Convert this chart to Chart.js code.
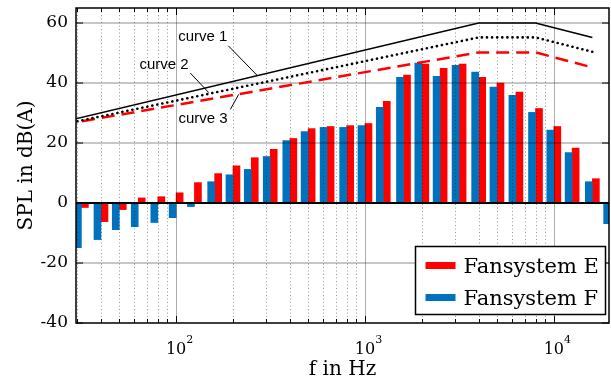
<!DOCTYPE html>
<html>
<head>
<meta charset="utf-8">
<title>SPL per third-octave band</title>
<script src="https://cdn.jsdelivr.net/npm/chart.js@4.4.0/dist/chart.umd.min.js"></script>
<style>
  body { margin: 0; background: #fff; }
</style>
</head>
<body>
<canvas id="splChart" width="611" height="385"></canvas>
<script>
// Third-octave band centre frequencies (Hz)
const bands = [31.5, 40, 50, 63, 80, 100, 125, 160, 200, 250, 315, 400, 500, 630, 800,
  1000, 1250, 1600, 2000, 2500, 3150, 4000, 5000, 6300, 8000, 10000, 12500, 16000, 20000];

// Band levels in dB(A)
const splE = [-1.5, -6.2, -2.2, 1.7, 2.1, 3.4, 6.8, 9.8, 12.4, 15.1, 17.9, 21.5, 24.8, 25.5, 25.8,
  26.5, 33.9, 42.6, 46.3, 44.9, 46.3, 41.9, 40.0, 37.0, 31.5, 25.5, 18.3, 8.1, -5.3];
const splF = [-14.9, -12.2, -8.9, -7.9, -6.5, -4.9, -1.2, 7.1, 9.4, 11.2, 15.5, 20.8, 23.8, 25.2, 25.2,
  25.8, 31.9, 41.9, 46.6, 42.2, 45.9, 43.6, 38.6, 35.9, 30.2, 24.3, 16.8, 7.1, -6.9];

// Limit curves
const curveFreq = [25, 4000, 8000, 16000];
const curve1 = [27.0, 60, 60, 55.2];
const curve2 = [26.2, 55.2, 55.2, 50.4];
const curve3 = [26.1, 50.2, 50.2, 45.2];

// Curve annotations: text anchor, leader start, leader tip (Hz / dB)
const curveNames = ['curve 1', 'curve 2', 'curve 3'];
const labelFreq = [102.5, 64, 102.8];
const labelDb = [54.1, 44.8, 26.7];
const leaderFreq = [189, 119, 193.8];
const leaderDb = [52.4, 43.3, 31.2];
const tipFreq = [268, 148.8, 214.4];
const tipDb = [42.6, 36.8, 36.2];

// x tick labels
const xTickValues = [100, 1000, 10000];
const xTickExp = ['2', '3', '4'];

const serif = "'DejaVu Serif', serif";
const red = '#FF0000';
const blue = '#0072BD';

function points(xs, ys) {
    return xs.map((f, i) => ({ x: f, y: ys[i] }));
}

// grid on top of the bars, below the curves
const gridPlugin = {
    id: 'gridPlugin',
    afterDatasetDraw(chart, args) {
        if (args.index !== 0) return;
        const { ctx, chartArea: a, scales: { x, y } } = chart;
        ctx.save();

        // minor decades, dotted
        ctx.strokeStyle = 'rgba(0,0,0,0.4)';
        ctx.lineWidth = 1;
        ctx.setLineDash([1, 2.5]);
        for (let d = 1; d <= 4; d++) {
            for (let m = 2; m <= 9; m++) {
                const f = m * Math.pow(10, d);
                if (f <= x.min || f >= x.max) continue;
                const px = Math.round(x.getPixelForValue(f)) + 0.5;
                ctx.beginPath();
                ctx.moveTo(px, a.top);
                ctx.lineTo(px, a.bottom);
                ctx.stroke();
            }
        }
        ctx.setLineDash([]);

        // decades
        ctx.strokeStyle = 'rgba(0,0,0,0.32)';
        xTickValues.forEach(f => {
            const px = Math.round(x.getPixelForValue(f)) + 0.5;
            ctx.beginPath();
            ctx.moveTo(px, a.top);
            ctx.lineTo(px, a.bottom);
            ctx.stroke();
        });

        // horizontal lines
        ctx.strokeStyle = 'rgba(0,0,0,0.45)';
        ctx.lineWidth = 1.2;
        y.ticks.forEach(t => {
            if (t.value === 0 || t.value === y.min) return;
            const py = y.getPixelForValue(t.value);
            ctx.beginPath();
            ctx.moveTo(a.left, py);
            ctx.lineTo(a.right, py);
            ctx.stroke();
        });

        // zero line
        ctx.strokeStyle = '#000';
        ctx.lineWidth = 2;
        const y0 = y.getPixelForValue(0);
        ctx.beginPath();
        ctx.moveTo(a.left, y0);
        ctx.lineTo(a.right, y0);
        ctx.stroke();
        ctx.restore();
    },

    afterDraw(chart) {
        const { ctx, chartArea: a, scales: { x, y } } = chart;
        ctx.save();

        // frame with inward ticks
        ctx.strokeStyle = '#000';
        ctx.lineWidth = 1.5;
        ctx.strokeRect(a.left, a.top, a.right - a.left, a.bottom - a.top);
        ctx.lineWidth = 1;
        ctx.beginPath();
        for (let d = 1; d <= 4; d++) {
            for (let m = 1; m <= 9; m++) {
                const f = m * Math.pow(10, d);
                if (f <= x.min || f >= x.max) continue;
                const px = Math.round(x.getPixelForValue(f)) + 0.5;
                const len = m === 1 ? 7 : 4;
                ctx.moveTo(px, a.top);
                ctx.lineTo(px, a.top + len);
                ctx.moveTo(px, a.bottom);
                ctx.lineTo(px, a.bottom - len);
            }
        }
        y.ticks.forEach(t => {
            const py = y.getPixelForValue(t.value);
            ctx.moveTo(a.left, py);
            ctx.lineTo(a.left + 7, py);
            ctx.moveTo(a.right, py);
            ctx.lineTo(a.right - 7, py);
        });
        ctx.stroke();

        // x tick labels 10^n
        ctx.fillStyle = '#000';
        ctx.textBaseline = 'alphabetic';
        xTickValues.forEach((f, i) => {
            const px = x.getPixelForValue(f);
            ctx.font = '16px ' + serif;
            ctx.textAlign = 'center';
            ctx.fillText('10', px, 354);
            const w = ctx.measureText('10').width;
            ctx.font = '11px ' + serif;
            ctx.textAlign = 'left';
            ctx.fillText(xTickExp[i], px + w / 2, 343);
        });

        // curve annotations
        ctx.font = "15px 'Liberation Sans', Arial, sans-serif";
        ctx.textAlign = 'left';
        ctx.lineWidth = 1;
        curveNames.forEach((name, i) => {
            ctx.fillText(name, x.getPixelForValue(labelFreq[i]), y.getPixelForValue(labelDb[i]));
            ctx.beginPath();
            ctx.moveTo(x.getPixelForValue(leaderFreq[i]), y.getPixelForValue(leaderDb[i]));
            ctx.lineTo(x.getPixelForValue(tipFreq[i]), y.getPixelForValue(tipDb[i]));
            ctx.stroke();
        });

        // legend box (E first, then F)
        const items = [chart.data.datasets[1], chart.data.datasets[0]];
        const bx = 415.5, by = 246.5, bw = 190, bh = 68;
        ctx.fillStyle = '#fff';
        ctx.fillRect(bx, by, bw, bh);
        ctx.lineWidth = 1.5;
        ctx.strokeRect(bx, by, bw, bh);
        ctx.font = '21px ' + serif;
        items.forEach((ds, i) => {
            const cy = by + 19 + i * 32;
            ctx.fillStyle = ds.backgroundColor;
            ctx.fillRect(bx + 10, cy - 3.5, 30, 7);
            ctx.fillStyle = '#000';
            ctx.fillText(ds.label, bx + 48, cy + 7);
        });
        ctx.restore();
    }
};

const ctx = document.getElementById('splChart').getContext('2d');
const splChart = new Chart(ctx, {
    type: 'bar',
    data: {
        datasets: [
            { label: 'Fansystem F', data: points(bands, splF), backgroundColor: blue, barThickness: 7 },
            { label: 'Fansystem E', data: points(bands, splE), backgroundColor: red, barThickness: 7 },
            { type: 'line', label: 'curve 1', data: points(curveFreq, curve1), order: -1,
              borderColor: '#000', borderWidth: 1.5, pointRadius: 0, fill: false },
            { type: 'line', label: 'curve 2', data: points(curveFreq, curve2), order: -1,
              borderColor: '#000', borderWidth: 2.6, borderDash: [0.1, 5], borderCapStyle: 'round',
              pointRadius: 0, fill: false },
            { type: 'line', label: 'curve 3', data: points(curveFreq, curve3), order: -1,
              borderColor: red, borderWidth: 2.5, borderDash: [13, 7], pointRadius: 0, fill: false }
        ]
    },
    options: {
        responsive: false,
        animation: false,
        layout: { padding: { top: 8, right: 2, left: 0, bottom: 0 } },
        plugins: {
            legend: { display: false },
            tooltip: { enabled: false }
        },
        scales: {
            x: {
                type: 'logarithmic',
                min: 29.5,
                max: 19600,
                offset: false,
                grid: { display: false, drawTicks: false, offset: false },
                border: { display: false },
                ticks: { display: false },
                title: { display: true, text: 'f in Hz', color: '#000',
                         font: { family: serif, size: 20 }, padding: { top: 0, bottom: 3 } },
                afterFit(scale) {
                    scale.height = 62;
                    scale.paddingLeft = 0;
                    scale.paddingRight = 0;
                }
            },
            y: {
                min: -40,
                max: 65,
                grid: { display: false, drawTicks: false },
                border: { display: false },
                ticks: { stepSize: 20, includeBounds: false, padding: 8, color: '#000',
                         font: { family: serif, size: 17 } },
                title: { display: true, text: 'SPL in dB(A)', color: '#000',
                         font: { family: serif, size: 20 }, padding: { top: 15, bottom: 0 } },
                afterFit(scale) {
                    scale.width = 76;
                    scale.paddingTop = 0;
                    scale.paddingBottom = 0;
                }
            }
        }
    },
    plugins: [gridPlugin]
});
</script>
</body>
</html>
